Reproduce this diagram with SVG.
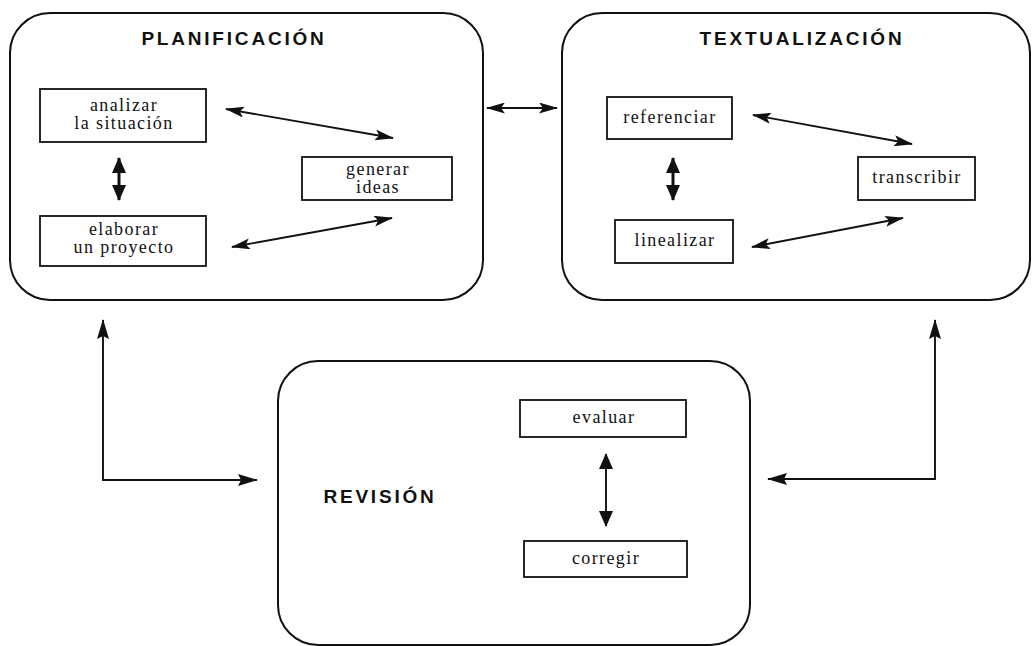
<svg xmlns="http://www.w3.org/2000/svg" width="1032" height="646" viewBox="0 0 1032 646">
<style>
.stage{fill:#fff;stroke:#111;stroke-width:2}
.box{fill:#fff;stroke:#111;stroke-width:1.8}
.title{font-family:"Liberation Sans",Arial,sans-serif;font-weight:bold;font-size:19px;letter-spacing:2.8px;fill:#111}
.lbl{font-family:"Liberation Serif","Times New Roman",serif;font-size:18px;letter-spacing:1.4px;fill:#111;text-anchor:middle}
.c{fill:none;stroke:#111;stroke-width:1.9}
.thick{fill:none;stroke:#111;stroke-width:3}
</style>
<defs>
<marker id="ah" markerUnits="userSpaceOnUse" markerWidth="19" markerHeight="11" refX="18" refY="5.5" orient="auto-start-reverse" viewBox="0 0 19 11">
<path d="M0,0 L19,5.5 L0,11 L4,5.5 z" fill="#111"/>
</marker>
<marker id="ahb" markerUnits="userSpaceOnUse" markerWidth="16" markerHeight="14" refX="15" refY="7" orient="auto-start-reverse" viewBox="0 0 16 14">
<path d="M0,0 L16,7 L0,14 z" fill="#111"/>
</marker>
<marker id="ahl" markerUnits="userSpaceOnUse" markerWidth="20" markerHeight="12" refX="19" refY="6" orient="auto-start-reverse" viewBox="0 0 20 12">
<path d="M0,0 L20,6 L0,12 L3,6 z" fill="#111"/>
</marker>
</defs>

<g id="planificacion">
<rect class="stage" x="10" y="13" width="473" height="287" rx="40" ry="40"/>
<text class="title" x="234" y="45" text-anchor="middle">PLANIFICACIÓN</text>
</g>
<g id="analizar">
<rect class="box" x="40" y="89" width="166" height="53"/>
<text class="lbl" x="124" y="111">analizar</text>
<text class="lbl" x="124" y="129">la situación</text>
</g>
<g id="elaborar">
<rect class="box" x="40" y="216" width="166" height="50"/>
<text class="lbl" x="124" y="235">elaborar</text>
<text class="lbl" x="124" y="253">un proyecto</text>
</g>
<g id="generar">
<rect class="box" x="302" y="157" width="150" height="43"/>
<text class="lbl" x="378" y="175">generar</text>
<text class="lbl" x="378" y="193">ideas</text>
</g>

<g id="textualizacion">
<rect class="stage" x="562" y="13" width="468" height="287" rx="40" ry="40"/>
<text class="title" x="802" y="45" text-anchor="middle">TEXTUALIZACIÓN</text>
</g>
<g id="referenciar">
<rect class="box" x="607" y="97" width="125" height="42"/>
<text class="lbl" x="670" y="123">referenciar</text>
</g>
<g id="transcribir">
<rect class="box" x="858" y="157" width="117" height="43"/>
<text class="lbl" x="917" y="183">transcribir</text>
</g>
<g id="linealizar">
<rect class="box" x="615" y="220" width="118" height="43"/>
<text class="lbl" x="675" y="246">linealizar</text>
</g>

<g id="revision">
<rect class="stage" x="278" y="361" width="472" height="284" rx="40" ry="40"/>
<text class="title" x="380" y="503" text-anchor="middle">REVISIÓN</text>
</g>
<g id="evaluar">
<rect class="box" x="520" y="400" width="166" height="37"/>
<text class="lbl" x="604" y="423">evaluar</text>
</g>
<g id="corregir">
<rect class="box" x="524" y="541" width="163" height="36"/>
<text class="lbl" x="606" y="564">corregir</text>
</g>

<g id="connectors">
<line class="c" x1="226" y1="109" x2="393" y2="138" marker-start="url(#ah)" marker-end="url(#ah)"/>
<line class="c" x1="232" y1="247" x2="392" y2="218" marker-start="url(#ah)" marker-end="url(#ah)"/>
<line class="thick" x1="119" y1="158" x2="119" y2="200" marker-start="url(#ahb)" marker-end="url(#ahb)"/>
<line class="c" x1="487" y1="108" x2="557" y2="108" marker-start="url(#ah)" marker-end="url(#ah)"/>
<line class="c" x1="753" y1="115" x2="912" y2="144" marker-start="url(#ah)" marker-end="url(#ah)"/>
<line class="c" x1="752" y1="247" x2="903" y2="218" marker-start="url(#ah)" marker-end="url(#ah)"/>
<line class="thick" x1="673" y1="158" x2="673" y2="200" marker-start="url(#ahb)" marker-end="url(#ahb)"/>
<line class="c" x1="606" y1="454" x2="606" y2="526" marker-start="url(#ahb)" marker-end="url(#ahb)"/>
<path class="c" d="M103,320 V480 H257" marker-start="url(#ahl)" marker-end="url(#ahl)"/>
<path class="c" d="M768,479 H935 V320" marker-start="url(#ahl)" marker-end="url(#ahl)"/>
</g>
</svg>
